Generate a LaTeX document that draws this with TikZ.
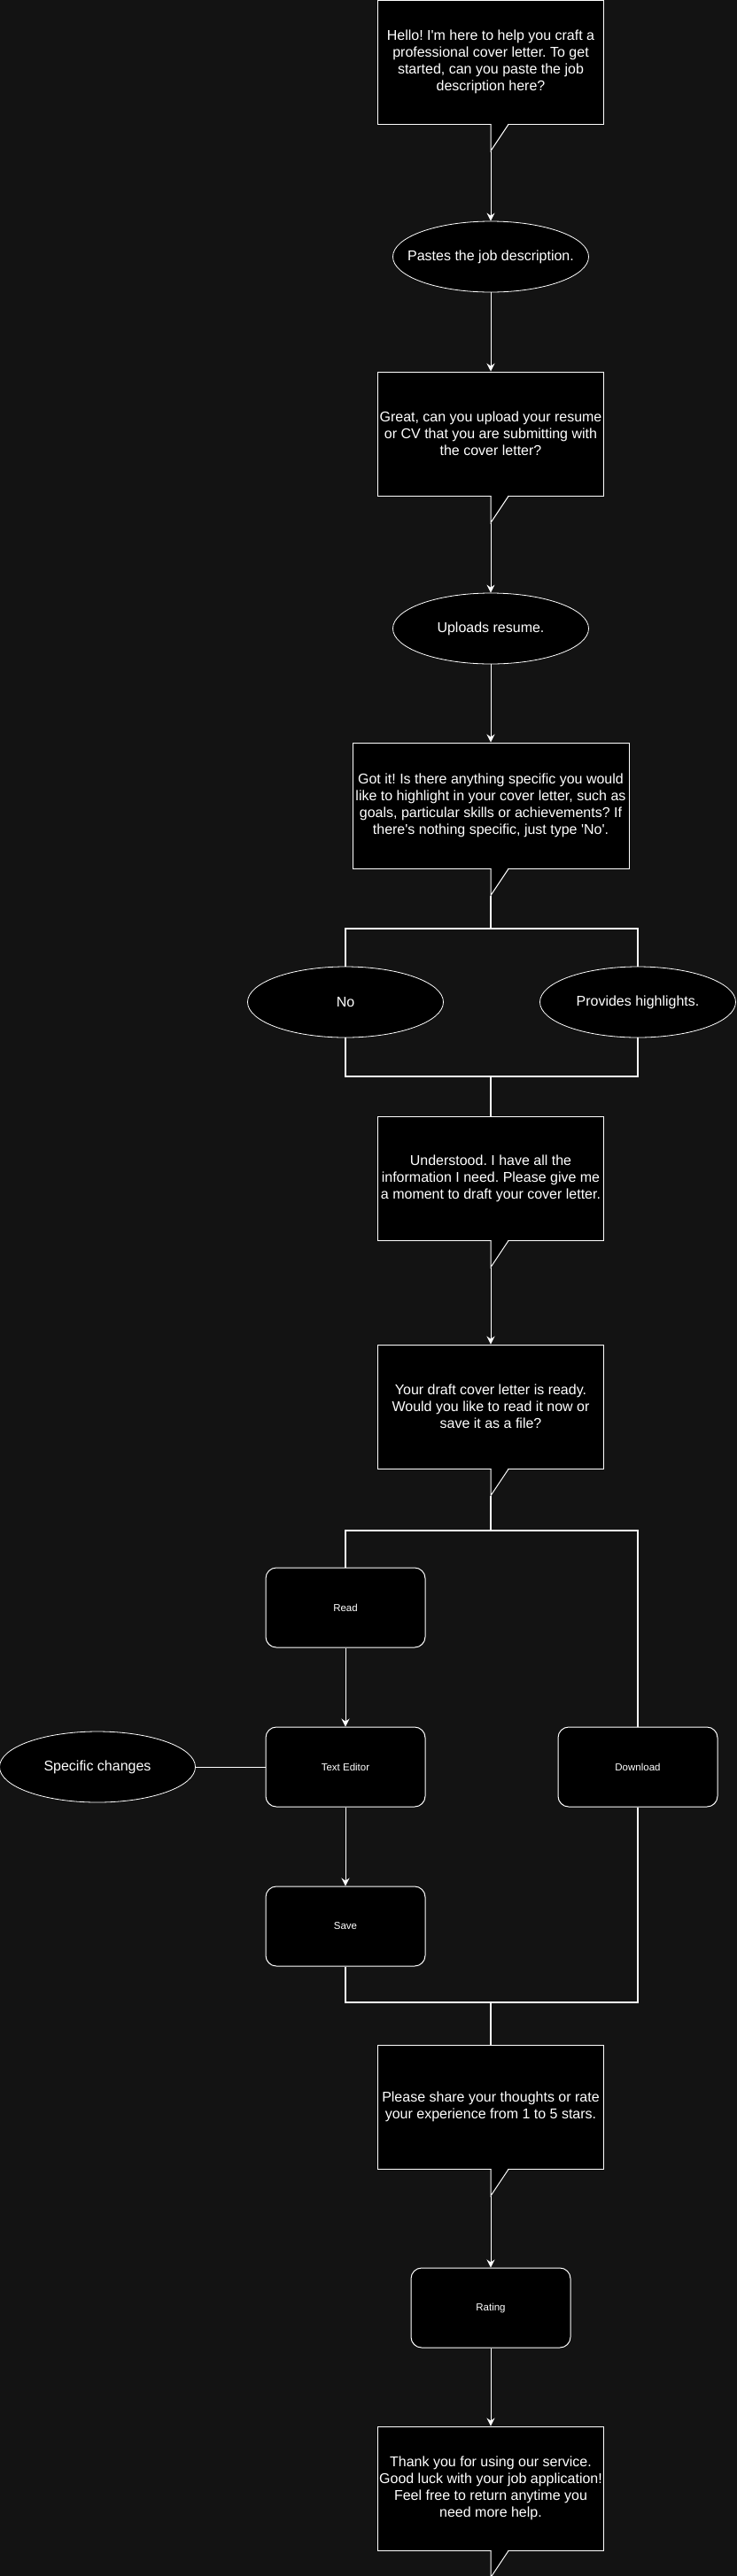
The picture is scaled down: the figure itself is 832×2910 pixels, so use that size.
\documentclass[tikz,border=0pt]{standalone}
\usepackage{fontspec}
\setmainfont{Liberation Sans}
\frenchspacing
\usetikzlibrary{shapes,arrows.meta,positioning,calc}
\definecolor{bg}{HTML}{131313}
\tikzstyle{bubble} = [draw=white,fill=black,rectangle,line width=1pt,inner sep=0,minimum width=255pt,minimum height=140pt,align=center,text=white,font=\fontsize{16}{19}\selectfont]
\tikzstyle{reply} = [draw=white,fill=black,ellipse,line width=0.8pt,inner sep=0,minimum width=221pt,minimum height=80pt,text=white,font=\fontsize{16}{19}\selectfont]
\tikzstyle{action} = [draw=white,fill=black,rectangle,rounded corners=12pt,line width=1pt,inner sep=0,minimum width=180pt,minimum height=90pt,text=white,font=\fontsize{11.5}{14}\selectfont]
\tikzstyle{flow} = [-{Stealth[length=9pt,width=9pt,inset=3pt]},white,line width=1pt]
\tikzstyle{branch} = [-,white,line width=1.8pt]
\tikzstyle{link} = [-,white,line width=1pt]
\def \tailw {20}
\def \tailh {30}
\def \q {\textquotesingle}
\newcommand{\calltail}[2]{%
  \coordinate (#2) at ($(#1.south)+(0,\tailh)$);
  \filldraw[fill=black,draw=white,line width=1pt] (#1.south) -- (#2) -- ($(#1.south)+(\tailw,0)$);
  \fill[black] ($(#1.south)+(0.6,-0.7)$) rectangle ($(#1.south)+(\tailw-1.2,0.6)$);
}

\begin{document}
\begin{tikzpicture}[x=1pt,y=-1pt]
  \useasboundingbox (0,0) rectangle (832,2910);
  \fill[bg] (0,0) rectangle (832,2910);

  \node[bubble] (hello) at (554,70) {Hello! I\q m here to help you craft a\\professional cover letter. To get\\started, can you paste the job\\description here?};
  \calltail{hello}{t1}
  \node[reply] (paste) at (554,290) {\makebox[0pt]{Pastes the job description.}};
  \node[bubble] (upload) at (554,490) {Great, can you upload your resume\\or CV that you are submitting with\\the cover letter?};
  \calltail{upload}{t2}
  \node[reply] (resume) at (554,710) {Uploads resume.};
  \node[bubble,minimum width=312pt,minimum height=142pt] (specific) at (554,910) {Got it! Is there anything specific you would\\like to highlight in your cover letter, such as\\goals, particular skills or achievements? If\\there\q s nothing specific, just type \q No\q.};
  \calltail{specific}{t3}
  \node[reply] (no) at (390,1132) {No};
  \node[reply] (high) at (720,1132) {Provides highlights.};
  \node[bubble] (understood) at (554,1331) {Understood. I have all the\\information I need. Please give me\\a moment to draft your cover letter.};
  \calltail{understood}{t4}
  \node[bubble] (draft) at (554,1589) {Your draft cover letter is ready.\\Would you like to read it now or\\save it as a file?};
  \calltail{draft}{t5}
  \node[action] (read) at (390,1816) {Read};
  \node[action] (editor) at (390,1996) {Text Editor};
  \node[action] (save) at (390,2176) {Save};
  \node[action] (download) at (720,1996) {Download};
  \node[reply] (changes) at (110,1996) {Specific changes};
  \node[bubble] (share) at (554,2380) {Please share your thoughts or rate\\your experience from 1 to 5 stars.};
  \calltail{share}{t6}
  \node[action] (rating) at (554,2607) {Rating};
  \node[bubble] (thanks) at (554,2811) {Thank you for using our service.\\Good luck with your job application!\\Feel free to return anytime you\\need more help.};
  \calltail{thanks}{t7}

  \coordinate (split1) at (554,1049);
  \coordinate (join1) at (554,1216);
  \coordinate (split2) at (554,1729);
  \coordinate (join2) at (554,2262);

  \draw[flow] (t1) -- (paste);
  \draw[flow] (paste) -- (upload);
  \draw[flow] (t2) -- (resume);
  \draw[flow] (resume) -- (specific);
  \draw[branch] (t3) -- (split1);
  \draw[branch] (no.north) |- (split1) -| (high.north);
  \draw[branch] (no.south) |- (join1) -| (high.south);
  \draw[branch] (join1) -- (understood);
  \draw[flow] (t4) -- (draft);
  \draw[branch] (t5) -- (split2);
  \draw[branch] (read.north) |- (split2) -| (download.north);
  \draw[flow] (read) -- (editor);
  \draw[flow] (editor) -- (save);
  \draw[link] (changes) -- (editor);
  \draw[branch] (save.south) |- (join2) -| (download.south);
  \draw[branch] (join2) -- (share);
  \draw[flow] (t6) -- (rating);
  \draw[flow] (rating) -- (thanks);
\end{tikzpicture}
\end{document}
